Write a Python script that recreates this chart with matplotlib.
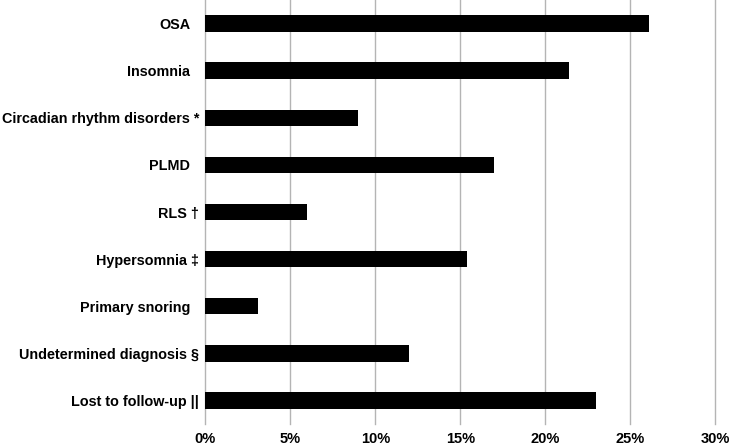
import matplotlib.pyplot as plt
from matplotlib.ticker import FuncFormatter

CATEGORIES = [
    "OSA",
    "Insomnia",
    "Circadian rhythm disorders *",
    "PLMD",
    "RLS \u2020",
    "Hypersomnia \u2021",
    "Primary snoring",
    "Undetermined diagnosis \u00a7",
    "Lost to follow-up ||",
]
VALUES = [26.1, 21.4, 9.0, 17.0, 6.0, 15.4, 3.1, 12.0, 23.0]
X_TICKS = [0, 5, 10, 15, 20, 25, 30]
HAS_SYMBOL = [False, False, True, False, True, True, False, True, True]


def main():
    plt.rcParams["font.family"] = ["Liberation Sans", "DejaVu Sans"]
    fig = plt.figure(figsize=(7.37, 4.46), dpi=100)
    ax = fig.add_axes([0.2786, 0.0493, 0.692, 0.9507])

    y = list(range(len(CATEGORIES)))
    ax.barh(y, VALUES, height=0.35, color="black", zorder=3)

    ax.set_ylim(len(CATEGORIES) - 0.5, -0.5)
    ax.set_xlim(0, 30)
    ax.set_xticks(X_TICKS)
    ax.xaxis.set_major_formatter(FuncFormatter(lambda v, p: f"{v:.0f}%"))
    ax.set_yticks(y)
    ax.set_yticklabels(CATEGORIES)

    for lab in ax.get_yticklabels():
        lab.set_fontweight("bold")
        lab.set_fontsize(10.4)
    for lab in ax.get_xticklabels():
        lab.set_fontweight("bold")
        lab.set_fontsize(10.5)

    ax.tick_params(axis="both", length=0)
    ax.tick_params(axis="x", pad=6)
    for tick, sym in zip(ax.yaxis.get_major_ticks(), HAS_SYMBOL):
        tick.set_pad(4.5 if sym else 11)

    for s in ["top", "right", "bottom", "left"]:
        ax.spines[s].set_visible(False)
    ax.grid(True, axis="x", color="#b4b4b4", linewidth=1, zorder=0)
    for gl in ax.get_xgridlines():
        gl.set_clip_on(False)
    ax.set_axisbelow(True)

    fig.savefig("out.png", dpi=100)


if __name__ == "__main__":
    main()
